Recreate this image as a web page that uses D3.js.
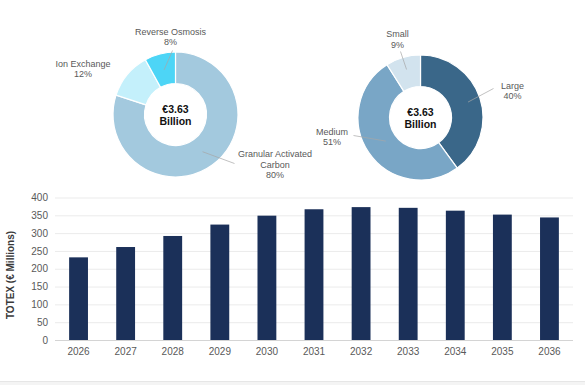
<!DOCTYPE html>
<html>
<head>
<meta charset="utf-8">
<script src="https://cdn.jsdelivr.net/npm/d3@7"></script>
<style>
  body { margin: 0; background: #fff; }
  svg { display: block; font-family: "Liberation Sans", Arial, sans-serif; }
  .lbl { fill: #595959; font-size: 9px; }
  .tick text { fill: #595959; font-size: 10px; }
</style>
</head>
<body>
<script>
// Technology split
var techNames = ['Granular Activated Carbon', 'Ion Exchange', 'Reverse Osmosis'];
var techShares = [80, 12, 8];
// Size split
var sizeNames = ['Large', 'Medium', 'Small'];
var sizeShares = [40, 51, 9];
// TOTEX by year
var years = ['2026', '2027', '2028', '2029', '2030', '2031', '2032', '2033', '2034', '2035', '2036'];
var totex = [232, 261, 292, 324, 349, 367, 373, 371, 363, 352, 344];
var yTicks = [0, 50, 100, 150, 200, 250, 300, 350, 400];

var W = 585, H = 385;
var svg = d3.select('body').append('svg')
  .attr('width', W).attr('height', H);

svg.append('rect').attr('x', 0).attr('y', 382).attr('width', W).attr('height', 3).attr('fill', '#f4f4f4');
svg.append('line').attr('x1', 0).attr('x2', W).attr('y1', 381.5).attr('y2', 381.5).attr('stroke', '#e6e6e6');

function drawDonut(cx, cy, names, shares, colors, labels) {
  var g = svg.append('g').attr('transform', 'translate(' + cx + ',' + cy + ')');
  var pie = d3.pie().sort(null).value(function (d) { return d; });
  var arc = d3.arc().innerRadius(31).outerRadius(62.5);
  var arcs = pie(shares);

  g.selectAll('path').data(arcs).enter().append('path')
    .attr('d', arc)
    .attr('fill', function (d, i) { return colors[i]; })
    .attr('stroke', '#fff').attr('stroke-width', 1.2);

  // leader lines + labels
  arcs.forEach(function (a, i) {
    var L = labels[i];
    var mid = (a.startAngle + a.endAngle) / 2;
    if (L.lx !== undefined) {
      var p0 = [Math.sin(mid) * L.r0, -Math.cos(mid) * L.r0];
      g.append('line')
        .attr('x1', p0[0]).attr('y1', p0[1])
        .attr('x2', L.lx).attr('y2', L.ly)
        .attr('stroke', '#a6a6a6').attr('stroke-width', 0.7);
    }
    var t = g.append('text').attr('class', 'lbl')
      .attr('text-anchor', 'middle')
      .attr('x', L.x).attr('y', L.y);
    L.lines.concat([shares[i] + '%']).forEach(function (s, k) {
      t.append('tspan').attr('x', L.x).attr('dy', k === 0 ? 0 : 10.7).text(s);
    });
  });

  var c = g.append('text').attr('text-anchor', 'middle')
    .style('font-weight', 'bold').style('font-size', '10.5px').attr('fill', '#111');
  c.append('tspan').attr('x', 0).attr('y', -1.5).text('€3.63');
  c.append('tspan').attr('x', 0).attr('y', 10.3).text('Billion');
}

drawDonut(175.5, 114.5, techNames, techShares, ['#a3c9de', '#c4f0fb', '#4dd5f6'], [
  { r0: 46, lx: 59, ly: 49, x: 99.5, y: 42.5, lines: ['Granular Activated', 'Carbon'] },
  { x: -92.5, y: -48, lines: ['Ion Exchange'] },
  { r0: 46, lx: -3, ly: -64, x: -5, y: -80, lines: ['Reverse Osmosis'] }
]);

drawDonut(420.5, 117.5, sizeNames, sizeShares, ['#3a6789', '#79a6c6', '#d2e3ee'], [
  { r0: 50, lx: 73, ly: -29, x: 92, y: -29, lines: ['Large'] },
  { r0: 42, lx: -67, ly: 18, x: -88.5, y: 17, lines: ['Medium'] },
  { r0: 50, lx: -20, ly: -66, x: -23, y: -80.5, lines: ['Small'] }
]);

// bar chart
var margin = { left: 55, right: 12 };
var x = d3.scaleBand().domain(years).range([margin.left, W - margin.right]).paddingInner(0.6).paddingOuter(0.3);
var y = d3.scaleLinear().domain([0, 400]).range([340, 197.5]);

svg.append('g').selectAll('line').data(yTicks.slice(1)).enter().append('line')
  .attr('x1', margin.left).attr('x2', W - margin.right)
  .attr('y1', function (d) { return y(d) + 0.5; }).attr('y2', function (d) { return y(d) + 0.5; })
  .attr('stroke', '#ebebeb');

svg.append('g').selectAll('rect').data(totex).enter().append('rect')
  .attr('x', function (d, i) { return x(years[i]); })
  .attr('y', function (d) { return y(d); })
  .attr('width', x.bandwidth())
  .attr('height', function (d) { return y(0) - y(d); })
  .attr('fill', '#1b3059');

svg.append('line').attr('x1', margin.left).attr('x2', W - margin.right)
  .attr('y1', y(0) + 0.5).attr('y2', y(0) + 0.5).attr('stroke', '#d4d4d4');

var yAxis = svg.append('g').attr('transform', 'translate(' + margin.left + ',0)')
  .call(d3.axisLeft(y).tickValues(yTicks).tickSize(0).tickPadding(7));
yAxis.select('.domain').remove();

var xAxis = svg.append('g').attr('transform', 'translate(0,' + y(0) + ')')
  .call(d3.axisBottom(x).tickSize(0).tickPadding(8));
xAxis.select('.domain').remove();

svg.append('text')
  .attr('transform', 'translate(14,' + 275 + ') rotate(-90)')
  .attr('text-anchor', 'middle')
  .style('font-weight', 'bold').style('font-size', '10px').attr('fill', '#3a3a3a')
  .text('TOTEX (€ Millions)');
</script>
</body>
</html>
